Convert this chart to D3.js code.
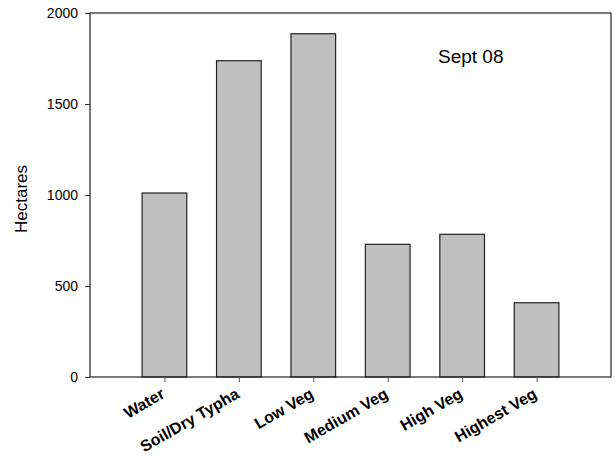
<!DOCTYPE html>
<html>
<head>
<meta charset="utf-8">
<script src="https://cdn.jsdelivr.net/npm/d3@7"></script>
<style>
  html, body { margin: 0; padding: 0; background: #fff; }
  svg { display: block; font-family: Arial, "Liberation Sans", sans-serif; }
</style>
</head>
<body>
<svg id="chart" width="616" height="462"></svg>
<script>
const categories = ["Water", "Soil/Dry Typha", "Low Veg", "Medium Veg", "High Veg", "Highest Veg"];
const hectares = [1011, 1738, 1886, 729, 784, 408];
const yTicks = [0, 500, 1000, 1500, 2000];
const yLabel = "Hectares";
const annotation = "Sept 08";

const svg = d3.select("#chart");
const mLeft = 90, mRight = 611, mTop = 13, mBottom = 377;

const x = d3.scaleLinear().domain([0, categories.length + 1]).range([mLeft, mRight]);
const y = d3.scaleLinear().domain([0, 2000]).range([mBottom, mTop]);
const barW = 0.6;

// bars
svg.append("g").selectAll("rect")
  .data(hectares)
  .join("rect")
  .attr("x", (d, i) => x(i + 1 - barW / 2))
  .attr("width", (d, i) => x(i + 1 + barW / 2) - x(i + 1 - barW / 2))
  .attr("y", d => y(d))
  .attr("height", d => y(0) - y(d))
  .attr("fill", "#c0c0c0")
  .attr("stroke", "#222")
  .attr("stroke-width", 1.2);

// frame
svg.append("rect")
  .attr("x", mLeft).attr("y", mTop)
  .attr("width", mRight - mLeft).attr("height", mBottom - mTop)
  .attr("fill", "none").attr("stroke", "#222").attr("stroke-width", 1.2);

// y axis
const yAxis = d3.axisLeft(y).tickValues(yTicks).tickSize(5).tickPadding(7).tickFormat(d3.format("d"));
const gy = svg.append("g").attr("transform", `translate(${mLeft},0)`).call(yAxis);
gy.select(".domain").remove();
gy.selectAll("line").attr("stroke", "#333");
gy.selectAll("text").attr("font-size", 14).attr("fill", "#000")
  .attr("font-family", "Arial, 'Liberation Sans', sans-serif");

// x axis
const xAxis = d3.axisBottom(x).tickValues(categories.map((c, i) => i + 1))
  .tickSize(5).tickFormat((d) => categories[d - 1]);
const gx = svg.append("g").attr("transform", `translate(0,${mBottom})`).call(xAxis);
gx.select(".domain").remove();
gx.selectAll("line").attr("stroke", "#555");
gx.selectAll("text")
  .attr("font-size", 16).attr("font-weight", "bold").attr("fill", "#000")
  .attr("font-family", "Arial, 'Liberation Sans', sans-serif")
  .attr("text-anchor", "end")
  .attr("dy", null)
  .attr("y", null)
  .attr("transform", "translate(1,20) rotate(-30)");

// y label
svg.append("text")
  .attr("transform", `translate(27,${(165 + 233) / 2}) rotate(-90)`)
  .attr("text-anchor", "middle")
  .attr("font-size", 17)
  .text(yLabel);

// annotation
svg.append("text")
  .attr("x", 438).attr("y", 63)
  .attr("font-size", 19)
  .text(annotation);
</script>
</body>
</html>
